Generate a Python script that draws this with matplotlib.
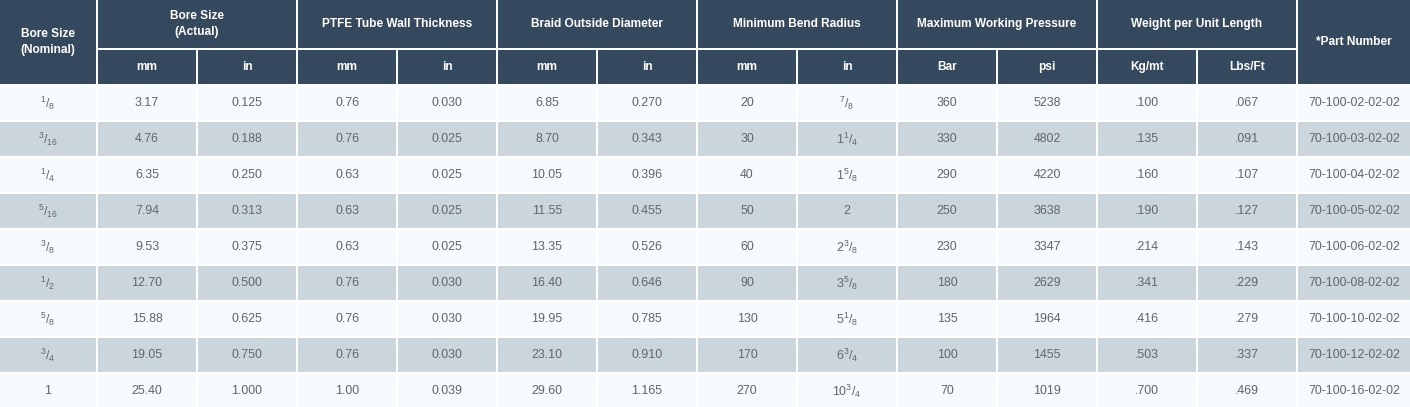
import matplotlib
matplotlib.use("Agg")
import matplotlib.pyplot as plt
from matplotlib.patches import Rectangle

plt.rcParams['font.family'] = ['Liberation Sans', 'DejaVu Sans']
plt.rcParams['mathtext.fontset'] = 'custom'
plt.rcParams['mathtext.rm'] = 'Liberation Sans'
plt.rcParams['mathtext.it'] = 'Liberation Sans'
plt.rcParams['mathtext.bf'] = 'Liberation Sans:bold'

# ---------------- data ----------------
group_headers = ["Bore Size\n(Actual)", "PTFE Tube Wall Thickness", "Braid Outside Diameter",
                 "Minimum Bend Radius", "Maximum Working Pressure", "Weight per Unit Length"]
sub_headers = ["mm", "in", "mm", "in", "mm", "in", "mm", "in", "Bar", "psi", "Kg/mt", "Lbs/Ft"]
first_header = "Bore Size\n(Nominal)"
last_header = "*Part Number"

nominal = [r"$\mathregular{^{1}/_{8}}$", r"$\mathregular{^{3}/_{16}}$", r"$\mathregular{^{1}/_{4}}$",
           r"$\mathregular{^{5}/_{16}}$", r"$\mathregular{^{3}/_{8}}$", r"$\mathregular{^{1}/_{2}}$",
           r"$\mathregular{^{5}/_{8}}$", r"$\mathregular{^{3}/_{4}}$", "1"]
bore_mm = ["3.17", "4.76", "6.35", "7.94", "9.53", "12.70", "15.88", "19.05", "25.40"]
bore_in = ["0.125", "0.188", "0.250", "0.313", "0.375", "0.500", "0.625", "0.750", "1.000"]
wall_mm = ["0.76", "0.76", "0.63", "0.63", "0.63", "0.76", "0.76", "0.76", "1.00"]
wall_in = ["0.030", "0.025", "0.025", "0.025", "0.025", "0.030", "0.030", "0.030", "0.039"]
braid_mm = ["6.85", "8.70", "10.05", "11.55", "13.35", "16.40", "19.95", "23.10", "29.60"]
braid_in = ["0.270", "0.343", "0.396", "0.455", "0.526", "0.646", "0.785", "0.910", "1.165"]
bend_mm = ["20", "30", "40", "50", "60", "90", "130", "170", "270"]
bend_in = [r"$\mathregular{^{7}/_{8}}$", r"$\mathregular{1^{1}/_{4}}$", r"$\mathregular{1^{5}/_{8}}$",
           "2", r"$\mathregular{2^{3}/_{8}}$", r"$\mathregular{3^{5}/_{8}}$",
           r"$\mathregular{5^{1}/_{8}}$", r"$\mathregular{6^{3}/_{4}}$", r"$\mathregular{10^{3}/_{4}}$"]
press_bar = ["360", "330", "290", "250", "230", "180", "135", "100", "70"]
press_psi = ["5238", "4802", "4220", "3638", "3347", "2629", "1964", "1455", "1019"]
weight_kg = [".100", ".135", ".160", ".190", ".214", ".341", ".416", ".503", ".700"]
weight_lb = [".067", ".091", ".107", ".127", ".143", ".229", ".279", ".337", ".469"]
part_no = ["70-100-02-02-02", "70-100-03-02-02", "70-100-04-02-02", "70-100-05-02-02",
           "70-100-06-02-02", "70-100-08-02-02", "70-100-10-02-02", "70-100-12-02-02",
           "70-100-16-02-02"]

columns = [nominal, bore_mm, bore_in, wall_mm, wall_in, braid_mm, braid_in,
           bend_mm, bend_in, press_bar, press_psi, weight_kg, weight_lb, part_no]

# ---------------- layout ----------------
W, H = 1410, 407
col_w = [98] + [100] * 12 + [112]
gap = 2
hdr1_h, hdr2_h = 50, 36
row_h = 36

HDR = "#34485e"
LIGHT = "#f5fafd"
DARK = "#cad6dc"
TXT = "#60656e"

fig = plt.figure(figsize=(W / 100, H / 100), dpi=100)
ax = fig.add_axes([0, 0, 1, 1])
ax.set_xlim(0, W)
ax.set_ylim(H, 0)
ax.axis("off")
fig.patch.set_facecolor("white")

edges = [0]
for w in col_w:
    edges.append(edges[-1] + w)

def cell(x0, x1, y0, y1, color):
    ax.add_patch(Rectangle((x0, y0), x1 - x0 - gap, y1 - y0 - gap, facecolor=color,
                           edgecolor="none", linewidth=0))
    return ((x0 + x1 - gap) / 2, (y0 + y1 - gap) / 2)

hfs = 8.6
dfs = 8.9
ls = 1.4
# first & last header spanning two rows
cx, cy = cell(edges[0], edges[1], 0, hdr1_h + hdr2_h, HDR)
ax.text(cx, cy, first_header, ha="center", va="center", color="white", fontsize=hfs,
        fontweight="bold", linespacing=ls)
cx, cy = cell(edges[13], edges[14] + gap, 0, hdr1_h + hdr2_h, HDR)
ax.text(cx, cy, last_header, ha="center", va="center", color="white", fontsize=hfs,
        fontweight="bold")
# group headers
for g, label in enumerate(group_headers):
    c0 = 1 + 2 * g
    cx, cy = cell(edges[c0], edges[c0 + 2], 0, hdr1_h, HDR)
    ax.text(cx, cy, label, ha="center", va="center", color="white", fontsize=hfs,
            fontweight="bold", linespacing=ls)
# sub headers
for i, label in enumerate(sub_headers):
    c = i + 1
    cx, cy = cell(edges[c], edges[c + 1], hdr1_h, hdr1_h + hdr2_h, HDR)
    ax.text(cx, cy, label, ha="center", va="center", color="white", fontsize=hfs,
            fontweight="bold")

# data rows
y_start = hdr1_h + hdr2_h
for r in range(len(part_no)):
    y0 = y_start + r * row_h
    color = LIGHT if r % 2 == 0 else DARK
    for c, col in enumerate(columns):
        x1 = edges[c + 1] + (gap if c == len(columns) - 1 else 0)
        cx, cy = cell(edges[c], x1, y0, y0 + row_h, color)
        ax.text(cx, cy, col[r], ha="center", va="center", color=TXT, fontsize=dfs)

fig.savefig("out.png", dpi=100, facecolor="white")
